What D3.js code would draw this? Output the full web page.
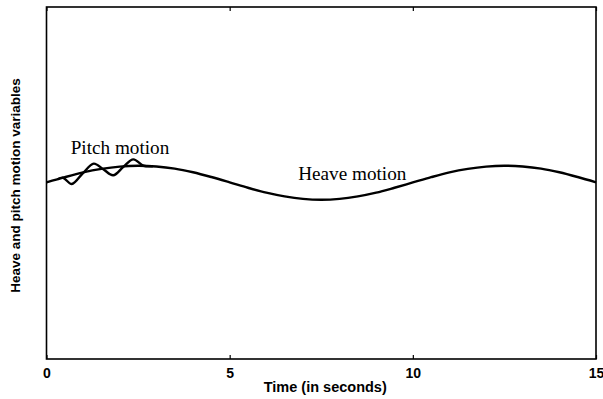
<!DOCTYPE html>
<html>
<head>
<meta charset="utf-8">
<script src="https://cdn.jsdelivr.net/npm/d3@7/dist/d3.min.js"></script>
<style>
  html, body { margin: 0; padding: 0; background: #fff; }
  svg { display: block; }
</style>
</head>
<body>
<script>
// ---- Data ----
const heaveTime = [0, 0.5, 1, 1.5, 2, 2.5, 3, 3.5, 4, 4.5, 5, 5.5, 6, 6.5, 7, 7.5,
                   8, 8.5, 9, 9.5, 10, 10.5, 11, 11.5, 12, 12.5, 13, 13.5, 14, 14.5, 15];
const heaveValues = [0.03, 0.33, 0.60, 0.80, 0.93, 0.98, 0.94, 0.82, 0.61, 0.34, 0.04,
                     -0.27, -0.55, -0.76, -0.90, -0.95, -0.90, -0.76, -0.55, -0.27, 0.03,
                     0.33, 0.60, 0.80, 0.93, 0.98, 0.94, 0.82, 0.61, 0.34, 0.04];
const pitchTime = [0.3, 0.45, 0.69, 0.99, 1.29, 1.55, 1.82, 2.10, 2.37, 2.65, 2.9];
const pitchValues = [0.21, 0.30, -0.06, 0.55, 1.10, 0.78, 0.44, 0.92, 1.34, 0.98, 0.95];
const xTicks = [0, 5, 10, 15];
const xTickLabels = ["0", "5", "10", "15"];
const annotations = [
  { text: "Pitch motion", t: 0.66, v: 1.64 },
  { text: "Heave motion", t: 6.87, v: 0.17 }
];
const xTitle = "Time (in seconds)";
const yTitle = "Heave and pitch motion variables";

(function () {
  // ---- Layout ----
  const W = 603, H = 399;
  const mLeft = 46.5, mRight = 596, mTop = 7, mBottom = 359;

  const svg = d3.select("body").append("svg")
    .attr("width", W).attr("height", H);

  svg.append("rect").attr("width", W).attr("height", H).attr("fill", "#fff");

  const x = d3.scaleLinear().domain([0, 15]).range([mLeft, mRight]);
  const y = d3.scaleLinear().domain([-10, 10]).range([mBottom, mTop]);

  // Axes with inward ticks
  const bottomAxis = d3.axisBottom(x)
    .tickValues(xTicks)
    .tickFormat((d, i) => xTickLabels[i])
    .tickSizeInner(-4).tickSizeOuter(0).tickPadding(8.6);
  const gB = svg.append("g").attr("transform", `translate(0,${mBottom})`).call(bottomAxis);
  gB.select(".domain").remove();
  gB.selectAll("line").attr("stroke", "#000").attr("stroke-width", 1.2);
  gB.selectAll("text")
    .attr("fill", "#000")
    .style("font-family", "'Liberation Sans', Arial, sans-serif")
    .style("font-weight", "bold")
    .style("font-size", "14px");

  const topAxis = d3.axisTop(x)
    .tickValues(xTicks).tickFormat("")
    .tickSizeInner(-4).tickSizeOuter(0);
  const gT = svg.append("g").attr("transform", `translate(0,${mTop})`).call(topAxis);
  gT.select(".domain").remove();
  gT.selectAll("line").attr("stroke", "#000").attr("stroke-width", 1.2);

  // Frame
  svg.append("rect")
    .attr("x", mLeft).attr("y", mTop)
    .attr("width", mRight - mLeft).attr("height", mBottom - mTop)
    .attr("fill", "none").attr("stroke", "#000").attr("stroke-width", 1.6);

  // Curves
  const line = d3.line()
    .x(d => x(d[0])).y(d => y(d[1]))
    .curve(d3.curveCatmullRom.alpha(0.5));

  svg.append("path")
    .datum(heaveTime.map((t, i) => [t, heaveValues[i]]))
    .attr("d", line)
    .attr("fill", "none").attr("stroke", "#000").attr("stroke-width", 2.4);

  svg.append("path")
    .datum(pitchTime.map((t, i) => [t, pitchValues[i]]))
    .attr("d", line)
    .attr("fill", "none").attr("stroke", "#000").attr("stroke-width", 2.4);

  // Annotations
  svg.selectAll("text.ann").data(annotations).enter().append("text")
    .attr("class", "ann")
    .attr("x", d => x(d.t)).attr("y", d => y(d.v))
    .attr("fill", "#000")
    .style("font-family", "'Liberation Serif', 'Times New Roman', serif")
    .style("font-size", "19.2px")
    .text(d => d.text);

  // Axis titles
  svg.append("text")
    .attr("x", (mLeft + mRight) / 2 + 4).attr("y", 391.5)
    .attr("text-anchor", "middle")
    .attr("fill", "#000")
    .style("font-family", "'Liberation Sans', Arial, sans-serif")
    .style("font-weight", "bold")
    .style("font-size", "14.5px")
    .text(xTitle);

  svg.append("text")
    .attr("transform", `translate(19.5,185.5) rotate(-90)`)
    .attr("text-anchor", "middle")
    .attr("fill", "#000")
    .style("font-family", "'Liberation Sans', Arial, sans-serif")
    .style("font-weight", "bold")
    .style("font-size", "13.5px")
    .text(yTitle);
})();
</script>
</body>
</html>
